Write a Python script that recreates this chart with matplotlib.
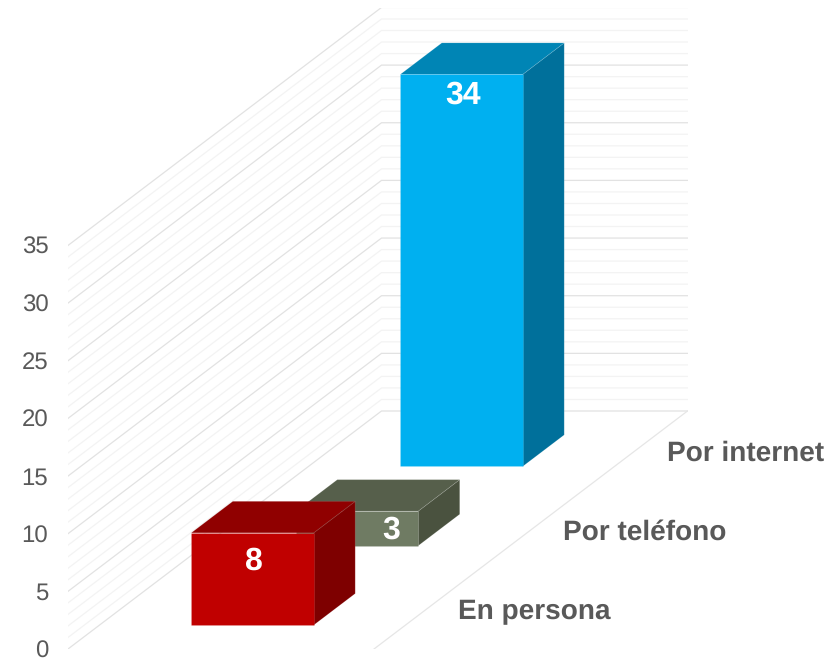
#!/usr/bin/env python
"""Oblique 3D-style column chart of contact channels, drawn on a plain 2D axes."""
import matplotlib
matplotlib.use("Agg")
import matplotlib.pyplot as plt

plt.rcParams["font.family"] = ["Liberation Sans", "DejaVu Sans"]
plt.rcParams["text.hinting"] = "no_hinting"
plt.rcParams["text.hinting_factor"] = 1

categories = ["En persona", "Por teléfono", "Por internet"]
values = [8, 3, 34]
value_ticks = [0, 5, 10, 15, 20, 25, 30, 35]
value_max = 35

# front, top and side shade of each column
front_colors = ["#C00000", "#6F7B63", "#00B0F0"]
top_colors = ["#900000", "#565F4B", "#0085B5"]
side_colors = ["#7E0000", "#4A523F", "#00709B"]
# value labels sit by hand on the visible part of each front face
label_offset_px = [(1, -25), (34, -16), (2, -18)]

W, H = 835, 659
PX_PER_VALUE = 11.53
PX_PER_WIDTH = 306.0
DEPTH_X = 313.5 / PX_PER_WIDTH   # shift of the back edge, in width units
DEPTH_Y = 238.0 / PX_PER_VALUE   # shift of the back edge, in value units
BAR_W, BAR_D = 0.40, 0.1324
GREY = "#595959"

fig = plt.figure(figsize=(W / 100, H / 100), dpi=100)
left, right, top, bottom = 68, 688, 8, 649
ax = fig.add_axes([left / W, 1 - bottom / H, (right - left) / W, (bottom - top) / H])
ax.set_xlim(0, (right - left) / PX_PER_WIDTH)
ax.set_ylim(0, (bottom - top) / PX_PER_VALUE)
ax.set_xticks([])
ax.set_yticks(value_ticks)
ax.tick_params(axis="y", length=0, pad=14.2, labelsize=17, labelcolor=GREY)
for lab in ax.get_yticklabels():
    lab.set_va("center_baseline")
for s in ax.spines.values():
    s.set_visible(False)


def proj(w, d, v):
    """Width, depth and value position on the sheared data plane."""
    return w + d * DEPTH_X, v + d * DEPTH_Y


def poly(pts, color, z):
    xs, ys = zip(*[proj(*p) for p in pts])
    ax.fill(xs, ys, facecolor=color, edgecolor=(1, 1, 1, 0.12), lw=0.6, zorder=z)


# walls: left wall runs front to back, back wall runs across
for v in range(value_max + 1):
    major = v % 5 == 0
    xs, ys = zip(proj(0, 0, v), proj(0, 1, v), proj(1, 1, v))
    ax.plot(xs, ys, color="#E2E2E2" if major else "#F3F3F3", lw=0.9, zorder=2 if major else 1,
            solid_joinstyle="miter")
xs, ys = zip(proj(1, 1, 0), proj(1, 0, 0))
ax.plot(xs, ys, color="#E6E6E6", lw=0.9, zorder=2)

# columns, rear category first so nearer ones overlap it
n = len(categories)
for i in reversed(range(n)):
    d0 = (i + 0.5) / n - BAR_D / 2
    d1 = d0 + BAR_D
    w0 = 0.5 - BAR_W / 2
    w1 = w0 + BAR_W
    v = values[i]
    z = 10 + (n - i) * 3
    poly([(w1, d0, 0), (w1, d1, 0), (w1, d1, v), (w1, d0, v)], side_colors[i], z)
    poly([(w0, d0, v), (w1, d0, v), (w1, d1, v), (w0, d1, v)], top_colors[i], z)
    poly([(w0, d0, 0), (w1, d0, 0), (w1, d0, v), (w0, d0, v)], front_colors[i], z + 1)
    ax.annotate(str(v), xy=proj(0.5, d0, v), xytext=label_offset_px[i],
                textcoords="offset pixels", ha="center", va="center_baseline", color="white",
                fontsize=23, fontweight="bold", zorder=z + 2, annotation_clip=False)
    ax.annotate(categories[i], xy=proj(1, (i + 0.5) / n, 0), xytext=(32, 0),
                textcoords="offset pixels", ha="left", va="center_baseline", color=GREY,
                fontsize=19.9, fontweight="bold", annotation_clip=False)

fig.savefig("out.png", dpi=100)
